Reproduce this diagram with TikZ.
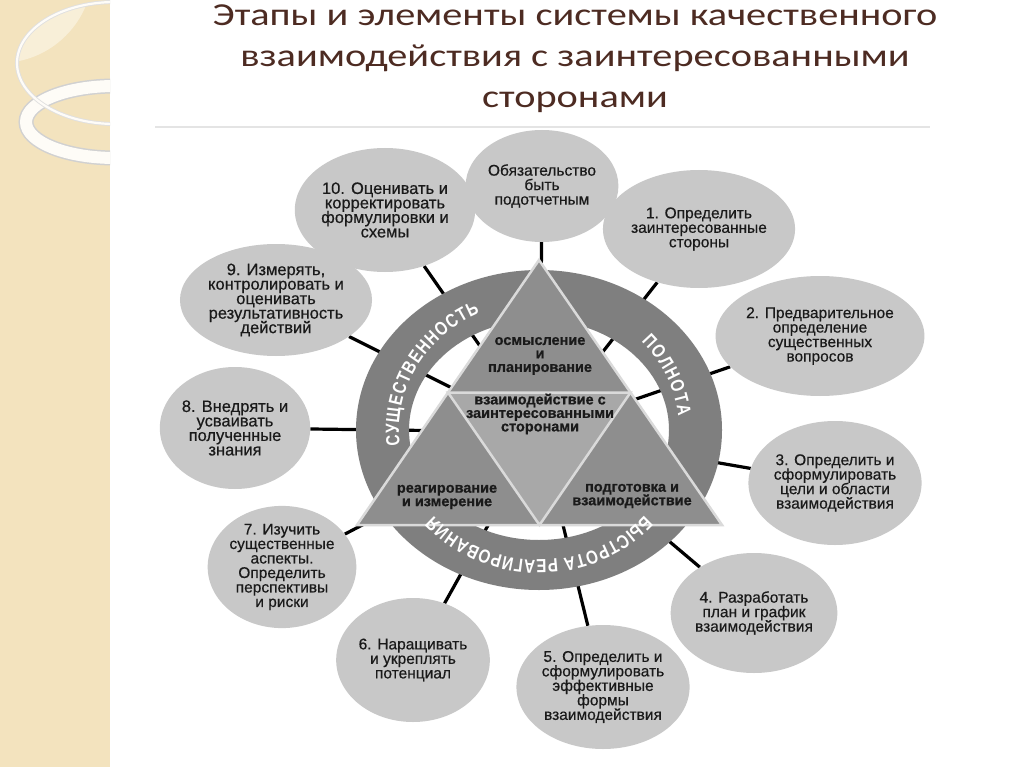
\documentclass[tikz,border=0pt]{standalone}
\usepackage{fontspec}
\setmainfont{Liberation Sans}
\newfontfamily\titlefont[FakeStretch=1.26]{Carlito}
\newfontfamily\ringfont[FakeStretch=0.8]{Liberation Sans Bold}
\newfontfamily\circfont[FakeBold=0.5]{Liberation Sans}
\newfontfamily\trifont[FakeBold=0.8]{Liberation Sans Bold}
\usetikzlibrary{shapes.geometric,decorations.text,calc}
\pgfdeclarelayer{back}
\pgfdeclarelayer{background}
\pgfsetlayers{back,background,main}
\definecolor{stripc}{HTML}{F3E3BE}
\definecolor{stripl}{HTML}{F8EFD8}
\definecolor{titlec}{HTML}{4D2B22}
\definecolor{rulec}{HTML}{E4E4E4}
\definecolor{circfill}{HTML}{C8C8C8}
\definecolor{ringc}{HTML}{7F7F7F}
\definecolor{tric}{HTML}{8E8E8E}
\definecolor{cenc}{HTML}{A8A8A8}
\definecolor{edgec}{HTML}{DADADA}
\definecolor{txtc}{HTML}{1A1A1A}
\tikzset{
  circ/.style={ellipse, fill=circfill, inner sep=0pt, align=center, text=txtc,
    font={\circfont\fontsize{15.5}{14.5}\selectfont\lineskiplimit=-20pt}},
  bigtxt/.style={font={\circfont\fontsize{16.5}{14.5}\selectfont\lineskiplimit=-20pt}},
  spoke/.style={line width=3.2pt, black},
  tritxt/.style={align=center, text=txtc, font={\trifont\fontsize{14.5}{13.5}\selectfont\lineskiplimit=-20pt}},
  titletxt/.style={anchor=base, text=titlec, font=\titlefont\fontsize{32}{41}\selectfont},
  triedge/.style={draw=edgec, line width=2.5pt, line join=miter},
  ringtxt/.style={decorate, decoration={text along path, text color=white,
    text align={fit to path}}}
}
\begin{document}
\begin{tikzpicture}[x=1pt,y=1pt]
\useasboundingbox (0,0) rectangle (1024,-767);
\begin{pgfonlayer}{back}
\fill[white] (0,0) rectangle (1024,-767);
% left decorative strip
\fill[stripc] (0,0) rectangle (110,-767);
\begin{scope}
  \clip (0,0) rectangle (110,-767);
  \begin{scope}
    \clip (115,-63) ellipse[x radius=98, y radius=61];
    \fill[stripl] (0,30) circle[radius=93];
  \end{scope}
  \draw[line width=15pt, color=black!18] (115,-122) ellipse[x radius=89, y radius=36];
  \draw[line width=12pt, color=white!88!stripc] (115,-122) ellipse[x radius=89, y radius=36];
  \draw[line width=4pt, color=black!12] (115,-63) ellipse[x radius=98, y radius=61];
  \draw[line width=2.2pt, color=white!90!stripc] (115,-63) ellipse[x radius=98, y radius=61];
\end{scope}
\end{pgfonlayer}
% title
\node[titletxt] (t1) at (575,-26) {Этапы и элементы системы качественного};
\node[titletxt] (t2) at (575,-67) {взаимодействия с заинтересованными};
\node[titletxt] (t3) at (575,-108) {сторонами};
\draw[rulec, line width=2pt] (155,-127) -- (930,-127);
% hub
\coordinate (hub) at (540,-432);
% ring
\coordinate (rc) at (539,-430);
\fill[ringc, even odd rule] (rc) ellipse[x radius=183, y radius=160] (rc) ellipse[x radius=130, y radius=110];
% triangle
\coordinate (T) at (539,-260);
\coordinate (L) at (357,-525);
\coordinate (R) at (722,-525);
\coordinate (ML) at ($(T)!0.5!(L)$);
\coordinate (MR) at ($(T)!0.5!(R)$);
\coordinate (MB) at ($(L)!0.5!(R)$);
\fill[tric] (T) -- (L) -- (R) -- cycle;
\fill[cenc] (ML) -- (MR) -- (MB) -- cycle;
\path[triedge] (T) -- (L) -- (R) -- cycle;
\path[triedge] (ML) -- (MR) -- (MB) -- cycle;
\node[tritxt] (tt) at (540,-356) {осмысление\\и\\планирование};
\node[tritxt] (tc) at (540,-414) {взаимодействие с\\заинтересованными\\сторонами};
\node[tritxt] (tl) at (447,-497) {реагирование\\и измерение};
\node[tritxt] (tr) at (632,-496) {подготовка и\\взаимодействие};
% ring texts
\path[ringtxt, decoration={text={|\ringfont\fontsize{19}{19}\selectfont|СУЩЕСТВЕННОСТЬ}}]
  ($(rc)+(187:140 and 129)$) arc[start angle=187, end angle=115, x radius=140pt, y radius=129pt];
\path[ringtxt, decoration={text={|\ringfont\fontsize{19}{19}\selectfont|ПОЛНОТА}}]
  ($(rc)+(43:140 and 129)$) arc[start angle=43, end angle=6, x radius=140pt, y radius=129pt];
\path[ringtxt, decoration={text={|\ringfont\fontsize{19}{19}\selectfont|БЫСТРОТА РЕАГИРОВАНИЯ}}]
  ($(rc)+(-41:140 and 130)$) arc[start angle=-41, end angle=-139, x radius=140pt, y radius=130pt];
% circles
\node[circ, minimum width=140pt, minimum height=112pt] (c0) at (542,-186) {Обязательство\\быть\\подотчетным};
\node[circ, minimum width=144pt, minimum height=118pt] (c1) at (699,-229) {1. Определить\\заинтересованные\\стороны};
\node[circ, minimum width=154pt, minimum height=120pt] (c2) at (820,-336) {2. Предварительное\\определение\\существенных\\вопросов};
\node[circ, minimum width=148pt, minimum height=124pt] (c3) at (835,-483) {3. Определить и\\сформулировать\\цели и области\\взаимодействия};
\node[circ, minimum width=142pt, minimum height=120pt] (c4) at (754,-613) {4. Разработать\\план и график\\взаимодействия};
\node[circ, minimum width=150pt, minimum height=124pt] (c5) at (603,-687) {5. Определить и\\сформулировать\\эффективные\\формы\\взаимодействия};
\node[circ, minimum width=144pt, minimum height=124pt] (c6) at (413,-660) {6. Наращивать\\и укреплять\\потенциал};
\node[circ, minimum width=148pt, minimum height=122pt] (c7) at (282,-567) {7. Изучить\\существенные\\аспекты.\\Определить\\перспективы\\и риски};
\node[circ, bigtxt, minimum width=144pt, minimum height=122pt] (c8) at (235,-428) {8. Внедрять и\\усваивать\\полученные\\знания};
\node[circ, bigtxt, minimum width=150pt, minimum height=112pt] (c9) at (276,-300) {9. Измерять,\\контролировать и\\оценивать\\результативность\\действий};
\node[circ, bigtxt, minimum width=146pt, minimum height=124pt] (c10) at (385,-210) {10. Оценивать и\\корректировать\\формулировки и\\схемы};
% spokes
\begin{pgfonlayer}{background}
  \foreach \i in {0,...,10} \draw[spoke] (hub) -- (c\i);
\end{pgfonlayer}
\end{tikzpicture}
\end{document}
